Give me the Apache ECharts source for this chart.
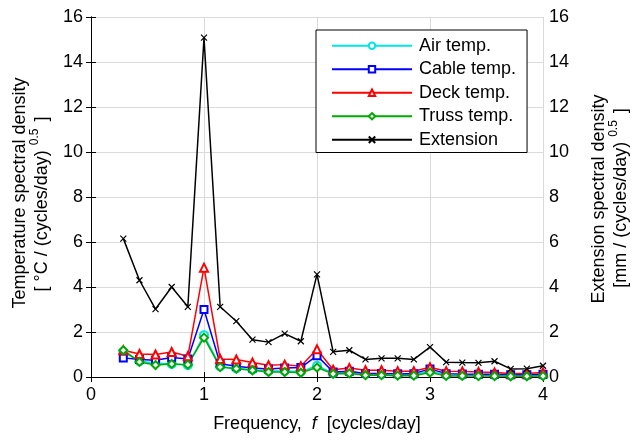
<!DOCTYPE html>
<html>
<head>
<meta charset="utf-8">
<script src="https://cdn.jsdelivr.net/npm/echarts@6/dist/echarts.min.js"></script>
<style>
  html, body { margin: 0; padding: 0; background: #fff; }
  #chart { width: 635px; height: 441px; }
</style>
</head>
<body>
<div id="chart"></div>
<script>
// frequencies (cycles/day)
var freq = [0.286, 0.429, 0.571, 0.714, 0.857, 1.0, 1.143, 1.286, 1.429, 1.571, 1.714, 1.857, 2.0,
    2.143, 2.286, 2.429, 2.571, 2.714, 2.857, 3.0, 3.143, 3.286, 3.429, 3.571, 3.714, 3.857, 4.0];

var airTemp = [1.12, 0.70, 0.62, 0.58, 0.52, 1.86, 0.47, 0.38, 0.32, 0.27, 0.27, 0.24, 0.50,
    0.17, 0.20, 0.13, 0.12, 0.12, 0.11, 0.26, 0.10, 0.09, 0.09, 0.08, 0.07, 0.07, 0.08];
var cableTemp = [0.85, 0.78, 0.74, 0.87, 0.80, 3.00, 0.59, 0.48, 0.40, 0.36, 0.40, 0.42, 0.95,
    0.22, 0.26, 0.16, 0.16, 0.15, 0.15, 0.36, 0.15, 0.13, 0.12, 0.12, 0.10, 0.10, 0.12];
var deckTemp = [1.19, 1.02, 1.00, 1.11, 0.92, 4.86, 0.80, 0.78, 0.64, 0.52, 0.55, 0.48, 1.23,
    0.32, 0.40, 0.30, 0.30, 0.26, 0.26, 0.43, 0.26, 0.25, 0.22, 0.20, 0.16, 0.16, 0.20];
var trussTemp = [1.19, 0.67, 0.53, 0.58, 0.55, 1.75, 0.44, 0.37, 0.30, 0.22, 0.22, 0.19, 0.42,
    0.14, 0.16, 0.08, 0.08, 0.06, 0.06, 0.20, 0.05, 0.05, 0.04, 0.04, 0.03, 0.03, 0.04];
var extension = [6.15, 4.30, 3.02, 4.00, 3.12, 15.08, 3.12, 2.48, 1.66, 1.55, 1.93, 1.59, 4.56,
    1.12, 1.19, 0.78, 0.83, 0.83, 0.78, 1.33, 0.66, 0.64, 0.63, 0.70, 0.36, 0.37, 0.50];

var xTicks = { min: 0, max: 4, interval: 1 };
var yTicks = { min: 0, max: 16, interval: 2 };

var FONT = '"Liberation Sans", Arial, sans-serif';

function pairs(ys) {
    var out = [];
    for (var i = 0; i < freq.length; i++) out.push([freq[i], ys[i]]);
    return out;
}

function lineSeries(name, ys, color, symbol, size, axis) {
    return {
        name: name,
        type: 'line',
        yAxisIndex: axis || 0,
        data: pairs(ys),
        symbol: symbol,
        symbolSize: size,
        showSymbol: true,
        lineStyle: { color: color, width: 1.5 },
        itemStyle: { color: color, borderColor: color, borderWidth: 1.2 },
        emphasis: { disabled: true }
    };
}

var chart = echarts.init(document.getElementById('chart'));

var axisLine = { show: true, lineStyle: { color: '#000', width: 1 } };
var tick = { show: true, inside: true, length: 5, lineStyle: { color: '#000' } };
var grid = { show: true, lineStyle: { color: '#dadada', width: 1 } };
var label = { color: '#000', fontSize: 18, fontFamily: FONT };

var option = {
    animation: false,
    textStyle: { fontFamily: FONT },
    grid: { left: 91, right: 92, top: 17, bottom: 64 },
    legend: {
        orient: 'vertical',
        left: 316,
        top: 30,
        padding: [4, 11, 1, 15],
        itemWidth: 80,
        itemHeight: 8,
        itemGap: 0,
        backgroundColor: '#fff',
        borderColor: '#000',
        borderWidth: 1,
        borderRadius: 0,
        textStyle: { color: '#000', fontSize: 18, fontFamily: FONT, lineHeight: 23.5, padding: [0, 0, 0, 2] },
        data: ['Air temp.', 'Cable temp.', 'Deck temp.', 'Truss temp.', 'Extension']
    },
    xAxis: [
        {
            type: 'value', min: xTicks.min, max: xTicks.max, interval: xTicks.interval,
            axisLine: axisLine, axisTick: tick, splitLine: grid,
            axisLabel: Object.assign({ margin: 9 }, label)
        },
        {
            type: 'value', position: 'top', min: xTicks.min, max: xTicks.max, interval: xTicks.interval,
            axisLine: axisLine, axisTick: tick, splitLine: { show: false },
            axisLabel: { show: false }
        }
    ],
    yAxis: [
        {
            type: 'value', min: yTicks.min, max: yTicks.max, interval: yTicks.interval,
            axisLine: axisLine, axisTick: tick, splitLine: grid,
            axisLabel: Object.assign({ margin: 8 }, label)
        },
        {
            type: 'value', position: 'right', min: yTicks.min, max: yTicks.max, interval: yTicks.interval,
            axisLine: axisLine, axisTick: tick, splitLine: { show: false },
            axisLabel: Object.assign({ margin: 6 }, label)
        }
    ],
    series: [
        lineSeries('Air temp.', airTemp, '#00e5e5', 'emptyCircle', 8),
        lineSeries('Cable temp.', cableTemp, '#0000ff', 'emptyRect', 7),
        lineSeries('Deck temp.', deckTemp, '#ff0000', 'emptyTriangle', 8),
        lineSeries('Truss temp.', trussTemp, '#00a800', 'emptyDiamond', 8),
        lineSeries('Extension', extension, '#000000', 'path://M0,0L10,10M10,0L0,10', 6, 1)
    ],
    graphic: [
        {
            type: 'text', x: 20, y: 193, rotation: Math.PI / 2,
            style: { text: 'Temperature spectral density', font: '18px ' + FONT, fill: '#000', align: 'center', verticalAlign: 'middle' }
        },
        {
            type: 'text', x: 40, y: 204, rotation: Math.PI / 2,
            style: {
                text: '{m|[ °C / (cycles/day) }{s|0.5}{m| ]}',
                align: 'center', verticalAlign: 'middle',
                rich: {
                    m: { fontSize: 18, fontFamily: FONT, color: '#000', verticalAlign: 'bottom' },
                    s: { fontSize: 12, fontFamily: FONT, color: '#000', verticalAlign: 'bottom', padding: [0, 2, 11, 0] }
                }
            }
        },
        {
            type: 'text', x: 599, y: 199, rotation: Math.PI / 2,
            style: { text: 'Extension spectral density', font: '18px ' + FONT, fill: '#000', align: 'center', verticalAlign: 'middle' }
        },
        {
            type: 'text', x: 619, y: 198, rotation: Math.PI / 2,
            style: {
                text: '{m|[mm / (cycles/day) }{s|0.5}{m| ]}',
                align: 'center', verticalAlign: 'middle',
                rich: {
                    m: { fontSize: 18, fontFamily: FONT, color: '#000', verticalAlign: 'bottom' },
                    s: { fontSize: 12, fontFamily: FONT, color: '#000', verticalAlign: 'bottom', padding: [0, 2, 11, 0] }
                }
            }
        },
        {
            type: 'text', x: 317, y: 424,
            style: {
                text: '{n|Frequency,  }{i|f}{n|  [cycles/day]}',
                align: 'center', verticalAlign: 'middle',
                rich: {
                    n: { fontSize: 18, fontFamily: FONT, color: '#000' },
                    i: { fontSize: 18, fontFamily: FONT, fontStyle: 'italic', color: '#000' }
                }
            }
        }
    ]
};

chart.setOption(option);
</script>
</body>
</html>
